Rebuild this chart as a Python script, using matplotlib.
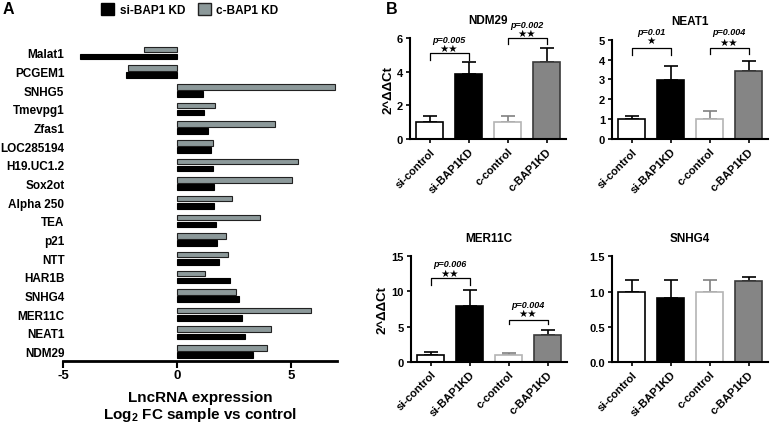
import matplotlib
matplotlib.use('Agg')
import matplotlib.pyplot as plt
import numpy as np
from matplotlib.patches import Patch

plt.rcParams['font.family'] = ['Liberation Sans', 'DejaVu Sans']
plt.rcParams['font.weight'] = 'bold'
plt.rcParams['mathtext.fontset'] = 'custom'
plt.rcParams['mathtext.bf'] = 'Liberation Sans:bold'
plt.rcParams['mathtext.rm'] = 'Liberation Sans:bold'

# panel A data (top to bottom)
genes = ['Malat1', 'PCGEM1', 'SNHG5', 'Tmevpg1', 'Zfas1', 'LOC285194', 'H19.UC1.2',
         'Sox2ot', 'Alpha 250', 'TEA', 'p21', 'NTT', 'HAR1B', 'SNHG4', 'MER11C',
         'NEAT1', 'NDM29']
si_kd = [-4.26, -2.24, 1.11, 1.17, 1.34, 1.49, 1.56, 1.60, 1.60, 1.72, 1.76, 1.82,
         2.30, 2.70, 2.83, 2.99, 3.34]
c_kd = [-1.44, -2.17, 6.90, 1.66, 4.29, 1.59, 5.29, 5.03, 2.41, 3.64, 2.14, 2.23,
        1.20, 2.58, 5.85, 4.13, 3.95]

# panel B data
groups = ['si-control', 'si-BAP1KD', 'c-control', 'c-BAP1KD']
ndm29_mean = [1.0, 3.85, 1.0, 4.6]
ndm29_err = [0.35, 0.75, 0.35, 0.8]
neat1_mean = [1.0, 2.95, 1.0, 3.4]
neat1_err = [0.18, 0.75, 0.4, 0.55]
mer11c_mean = [1.0, 7.95, 1.0, 3.75]
mer11c_err = [0.4, 2.2, 0.25, 0.8]
snhg4_mean = [1.0, 0.91, 1.0, 1.15]
snhg4_err = [0.17, 0.26, 0.17, 0.06]

W, H = 774, 427
fig = plt.figure(figsize=(W / 100, H / 100), dpi=100)


def px_axes(l, r, b, t):
    return fig.add_axes([l / W, 1 - b / H, (r - l) / W, (b - t) / H])


# ---------- panel A ----------
grey_a = '#8c999a'
ax = px_axes(63, 337, 362, 40)
y = np.arange(len(genes))[::-1]
ax.barh(y + 0.19, c_kd, height=0.3, color=grey_a, edgecolor='#222222', linewidth=0.8)
ax.barh(y - 0.19, si_kd, height=0.3, color='black', edgecolor='black', linewidth=0.8)
ax.set_xlim(-5, 7)
ax.set_ylim(-0.51, 16.75)
ax.set_yticks(y)
ax.set_yticklabels(genes, fontsize=8.5, fontweight='bold')
ax.tick_params(axis='y', length=0, pad=-1)
ax.set_xticks([-5, 0, 5])
ax.set_xticklabels(['-5', '0', '5'], fontsize=9.5, fontweight='bold')
ax.tick_params(axis='x', length=5, width=1.5, direction='out', pad=1)
for s in ['left', 'top', 'right']:
    ax.spines[s].set_visible(False)
ax.spines['bottom'].set_linewidth(2)
ax.set_xlabel('LncRNA expression\nLog$_{\\mathbf{2}}$ FC sample vs control',
              fontsize=11, fontweight='bold', labelpad=6, linespacing=1.1)

fig.legend(handles=[Patch(facecolor='black', edgecolor='black'),
                    Patch(facecolor=grey_a, edgecolor='#222222')],
           labels=['si-BAP1 KD', 'c-BAP1 KD'], loc='upper center',
           bbox_to_anchor=(190 / W, 1.015), ncol=2, frameon=False,
           handlelength=1.1, handleheight=1.1, handletextpad=0.5,
           columnspacing=1.0, prop={'size': 8.5, 'weight': 'bold'})

fig.text(3 / W, 1 - 9 / H, 'A', fontsize=11.5, fontweight='bold', va='center')
fig.text(386 / W, 1 - 9 / H, 'B', fontsize=11.5, fontweight='bold', va='center')

# ---------- panel B ----------
faces = ['white', 'black', 'white', '#858585']
edges = ['black', 'black', '#b4b4b4', '#3a3a3a']
errc = ['black', 'black', '#808080', 'black']


def bar_panel(ax, title, mean, err, ylim, yticks, fmt, ylabel=False):
    x = np.arange(len(groups))
    ax.bar(x, mean, width=0.667, color=faces, edgecolor=edges, linewidth=1.2, zorder=2)
    for i in range(len(groups)):
        ax.errorbar(x[i], mean[i], yerr=[[0], [err[i]]], fmt='none', ecolor=errc[i],
                    elinewidth=1.2, capsize=5, capthick=1.2, zorder=1)
    ax.set_xlim(-0.5, 3.5)
    ax.set_ylim(*ylim)
    ax.set_yticks(yticks)
    ax.set_yticklabels([fmt.format(v) for v in yticks], fontsize=8, fontweight='bold')
    ax.set_xticks(x)
    ax.set_xticklabels(groups, rotation=45, ha='right', rotation_mode='anchor',
                       fontsize=8, fontweight='bold')
    ax.tick_params(length=3, width=1.2, pad=2)
    for s in ['top', 'right']:
        ax.spines[s].set_visible(False)
    for s in ['left', 'bottom']:
        ax.spines[s].set_linewidth(1.5)
    ax.set_title(title, fontsize=8.5, fontweight='bold', pad=11)
    if ylabel:
        ax.set_ylabel('2^ΔΔCt', fontsize=9.5, fontweight='bold', labelpad=2)


def bracket(ax, i, j, top, low, stars, ptext, star_y, p_y):
    ax.plot([i, i, j, j], [low, top, top, low], color='black', lw=0.9, clip_on=False)
    ax.text((i + j) / 2, star_y, stars, ha='center', va='center', fontsize=7.5,
            family=['DejaVu Sans'], clip_on=False)
    ax.text((i + j) / 2, p_y, ptext, ha='center', va='center', fontsize=6.5,
            fontweight='bold', style='italic', clip_on=False)


ax1 = px_axes(410, 566, 140, 39.3)
bar_panel(ax1, 'NDM29', ndm29_mean, ndm29_err, (0, 6), [0, 2, 4, 6], '{:g}', True)
bracket(ax1, 0, 1, 5.1, 4.7, '★★', 'p=0.005', 5.4, 5.95)
bracket(ax1, 2, 3, 6.03, 5.65, '★★', 'p=0.002', 6.3, 6.85)

ax2 = px_axes(612, 768, 140, 40.7)
bar_panel(ax2, 'NEAT1', neat1_mean, neat1_err, (0, 5), [0, 1, 2, 3, 4, 5], '{:g}')
bracket(ax2, 0, 1, 4.6, 4.24, '★', 'p=0.01', 4.98, 5.4)
bracket(ax2, 2, 3, 4.6, 4.3, '★★', 'p=0.004', 4.9, 5.4)

ax3 = px_axes(411, 567, 362.7, 257.3)
bar_panel(ax3, 'MER11C', mer11c_mean, mer11c_err, (0, 15), [0, 5, 10, 15], '{:g}', True)
bracket(ax3, 0, 1, 11.9, 10.9, '★★', 'p=0.006', 12.6, 14.0)
bracket(ax3, 2, 3, 5.94, 5.4, '★★', 'p=0.004', 6.9, 8.2)

ax4 = px_axes(612, 768, 363, 257.3)
bar_panel(ax4, 'SNHG4', snhg4_mean, snhg4_err, (0, 1.5), [0, 0.5, 1.0, 1.5], '{:.1f}')

fig.savefig('out.png', dpi=100)
